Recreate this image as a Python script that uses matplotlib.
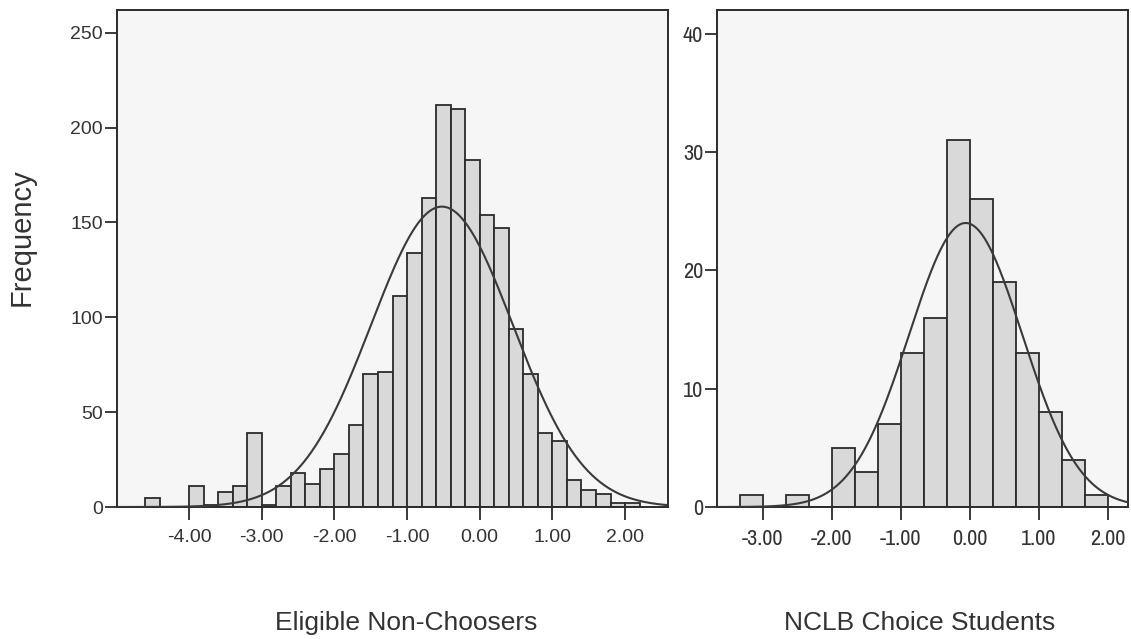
import numpy as np
import matplotlib
matplotlib.use('Agg')
import matplotlib.pyplot as plt
from matplotlib import font_manager

plt.rcParams['font.family'] = ['Liberation Sans', 'DejaVu Sans']

# Eligible Non-Choosers: bins of 0.2 starting at -4.6
left_bin_lo = -4.6
left_bin_w = 0.2
left_counts = [5, 0, 0, 11, 1, 8, 11, 39, 1, 11, 18, 12, 20, 28, 43, 70, 71,
               111, 134, 163, 212, 210, 183, 154, 147, 94, 70, 39, 35, 14, 9,
               7, 2, 2]
left_mean = -0.52
left_sd = 0.975
left_xticks = [-4, -3, -2, -1, 0, 1, 2]
left_xticklabels = ['-4.00', '-3.00', '-2.00', '-1.00', '0.00', '1.00', '2.00']
left_yticks = [0, 50, 100, 150, 200, 250]

# NCLB Choice Students: bins of 1/3 starting at -10/3
right_bin_lo = -10 / 3
right_bin_w = 1 / 3
right_counts = [1, 0, 1, 0, 5, 3, 7, 13, 16, 31, 26, 19, 13, 8, 4, 1]
right_mean = -0.06
right_sd = 0.82
right_xticks = [-3, -2, -1, 0, 1, 2]
right_xticklabels = ['-3.00', '-2.00', '-1.00', '0.00', '1.00', '2.00']
right_yticks = [0, 10, 20, 30, 40]

dark = '#2b2b2b'
W, H = 1131, 639

# the right panel uses a narrow face in the original
installed = set(f.name for f in font_manager.fontManager.ttflist)
narrow = 'Liberation Sans'
for cand in ['Liberation Sans Narrow', 'Arial Narrow', 'Archivo Narrow']:
  if cand in installed:
    narrow = cand
    break


def draw_panel(ax, lo, w, counts, mean, sd, xlim, ylim):
  edges = lo + np.arange(len(counts) + 1) * w
  ax.bar(edges[:-1], counts, width=w, align='edge', color='#d9d9d9',
         edgecolor=dark, linewidth=1.3, zorder=2)
  # normal curve scaled to the number of cases
  n = sum(counts)
  xs = np.linspace(xlim[0], xlim[1], 400)
  ys = n * w / (sd * np.sqrt(2 * np.pi)) * np.exp(-0.5 * ((xs - mean) / sd) ** 2)
  ax.plot(xs, ys, color='#3a3a3a', linewidth=1.5, zorder=3)
  ax.set_xlim(*xlim)
  ax.set_ylim(*ylim)
  ax.set_facecolor('#f6f6f6')
  for s in ax.spines.values():
    s.set_color(dark)
    s.set_linewidth(1.4)
  ax.tick_params(axis='both', direction='out', length=9, width=1.3,
                 color=dark, labelcolor='#333333')
  ax.tick_params(axis='x', pad=7)
  ax.tick_params(axis='y', pad=1)


fig = plt.figure(figsize=(W / 100, H / 100), dpi=100)
ax1 = fig.add_axes([117 / W, 132 / H, 551 / W, 497 / H])
ax2 = fig.add_axes([717 / W, 132 / H, 411 / W, 497 / H])

ax1.set_xticks(left_xticks)
ax1.set_xticklabels(left_xticklabels, fontsize=14)
ax1.set_yticks(left_yticks)
ax1.set_yticklabels([str(v) for v in left_yticks], fontsize=14)
draw_panel(ax1, left_bin_lo, left_bin_w, left_counts, left_mean, left_sd,
           (-4.99, 2.59), (0, 262))

ax2.set_xticks(right_xticks)
ax2.set_xticklabels(right_xticklabels, fontsize=16, family=narrow)
ax2.set_yticks(right_yticks)
ax2.set_yticklabels([str(v) for v in right_yticks], fontsize=16, family=narrow)
draw_panel(ax2, right_bin_lo, right_bin_w, right_counts, right_mean, right_sd,
           (-3.66, 2.29), (0, 42))

fig.text(22 / W, 1 - 237 / H, 'Frequency', rotation=90, fontsize=21,
         ha='center', va='center', color='#333333')
fig.text(406 / W, 1 - 623 / H, 'Eligible Non-Choosers', fontsize=19,
         ha='center', va='center', color='#333333')
fig.text(920 / W, 1 - 623 / H, 'NCLB Choice Students', fontsize=19,
         ha='center', va='center', color='#333333')

fig.savefig('out.png', dpi=100, facecolor='white')
